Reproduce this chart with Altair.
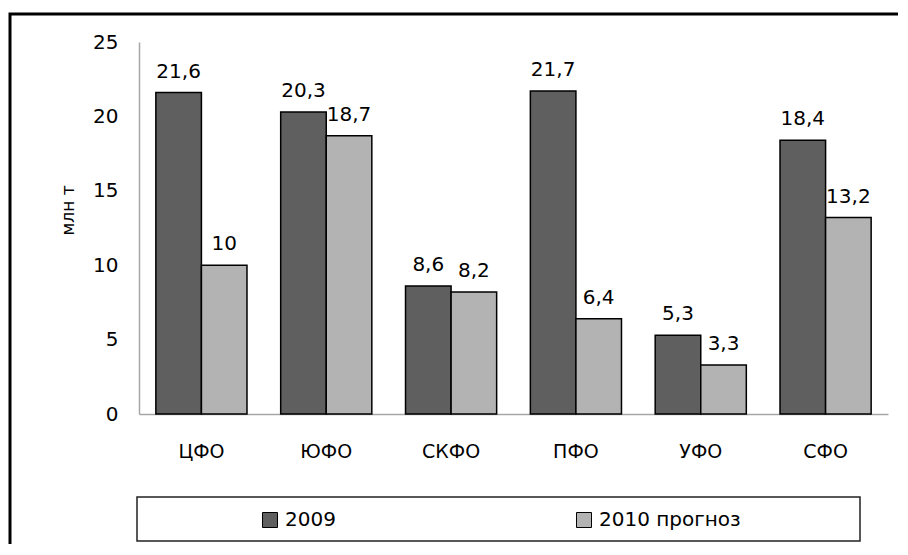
import altair as alt
import pandas as pd

regions = ["ЦФО", "ЮФО", "СКФО", "ПФО", "УФО", "СФО"]
series = ["2009", "2010 прогноз"]
values_2009 = [21.6, 20.3, 8.6, 21.7, 5.3, 18.4]
values_2010 = [10.0, 18.7, 8.2, 6.4, 3.3, 13.2]
colors = ["#5f5f5f", "#b3b3b3"]

rows = []
for r, a, b in zip(regions, values_2009, values_2010):
    rows.append({"region": r, "series": series[0], "value": a})
    rows.append({"region": r, "series": series[1], "value": b})
df = pd.DataFrame(rows)

FONT = "DejaVu Sans"

x_enc = alt.X("region:N", sort=regions,
              scale=alt.Scale(paddingInner=0.27, paddingOuter=0.135),
              axis=alt.Axis(title=None, labelAngle=0, labelFontSize=19, labelPadding=28,
                            ticks=False, domainColor="#a6a6a6", domainWidth=1.5,
                            labelColor="black", labelFont=FONT))
xoff = alt.XOffset("series:N", sort=series, scale=alt.Scale(paddingInner=0, paddingOuter=0))

base = alt.Chart(df)

bars = base.mark_bar(stroke="black", strokeWidth=1.5).encode(
    x=x_enc,
    xOffset=xoff,
    y=alt.Y("value:Q", scale=alt.Scale(domain=[0, 25], nice=False),
            axis=alt.Axis(values=[0, 5, 10, 15, 20, 25], grid=False, ticks=False,
                          domainColor="#a6a6a6", domainWidth=1.5,
                          labelFontSize=20, labelPadding=21, labelColor="black",
                          labelFont=FONT,
                          title="млн т", titleFontSize=17, titleFontWeight="normal",
                          titleFont=FONT, titleColor="black",
                          titleAngle=-90, titleX=-71, titleY=168,
                          titleAlign="center", titleBaseline="middle")),
    color=alt.Color("series:N", sort=series,
                    scale=alt.Scale(domain=series, range=colors),
                    legend=alt.Legend(title=None, orient="none", legendX=121, legendY=468,
                                      direction="horizontal", symbolType="square",
                                      symbolSize=225, symbolStrokeColor="black",
                                      symbolStrokeWidth=1, symbolOpacity=1,
                                      labelFontSize=20, labelFont=FONT, labelColor="black",
                                      labelOffset=5, columnPadding=238, padding=0)),
)

labels = base.transform_calculate(
    lab="replace(format(datum.value, '.1~f'), '.', ',')"
).mark_text(fontSize=20, font=FONT, baseline="alphabetic", dy=-15, color="black").encode(
    x=alt.X("region:N", sort=regions),
    xOffset=xoff,
    y="value:Q",
    text="lab:N",
)

frame_data = alt.Data(values=[{"k": 1}])
outer = alt.Chart(frame_data).mark_rect(fillOpacity=0, stroke="black", strokeWidth=3).encode(
    x=alt.value(-129), x2=alt.value(790), y=alt.value(-28), y2=alt.value(560))
legend_box = alt.Chart(frame_data).mark_rect(fillOpacity=0, stroke="#222222", strokeWidth=1.5).encode(
    x=alt.value(-2), x2=alt.value(721), y=alt.value(455), y2=alt.value(499))

chart = alt.layer(outer, legend_box, bars, labels).properties(
    width=749, height=372,
    autosize=alt.AutoSizeParams(type="none"),
    padding={"left": 131, "top": 34, "right": 10, "bottom": 130},
).configure_view(stroke=None)

chart.save("out.html", embed_options={"renderer": "svg", "actions": False})
